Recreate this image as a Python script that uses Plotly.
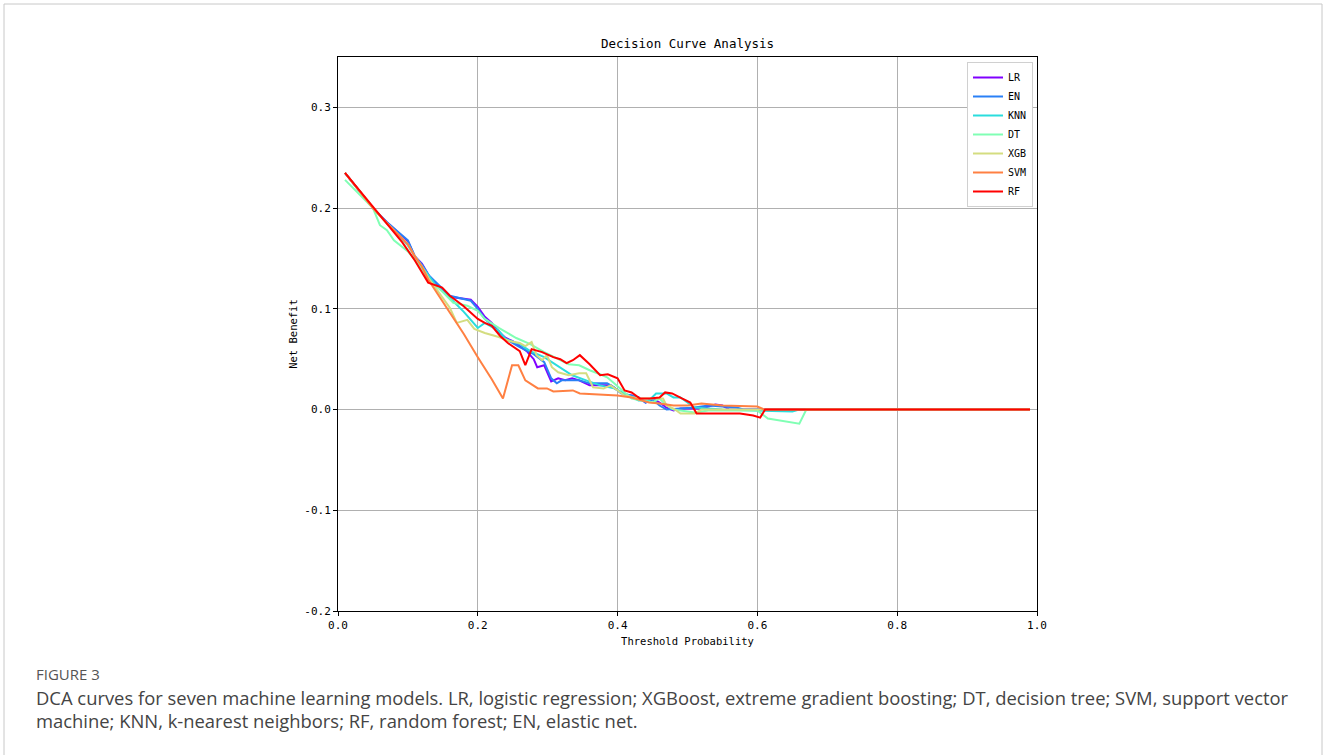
import plotly.graph_objects as go

# ---- data (threshold probability, net benefit) ----
LR_x = [0.01,0.05,0.07,0.08,0.10,0.11,0.12,0.13,0.15,0.16,0.19,0.20,0.21,0.22,0.23,0.24,0.25,0.26,0.27,0.28,0.285,0.295,0.305,0.315,0.325,0.335,0.345,0.36,0.39,0.40,0.41,0.42,0.43,0.44,0.45,0.46,0.47,0.48,0.49,0.52,0.54,0.55,0.56,0.99]
LR_y = [0.235,0.200,0.186,0.180,0.167,0.152,0.145,0.133,0.118,0.112,0.109,0.102,0.092,0.086,0.077,0.071,0.068,0.063,0.058,0.050,0.042,0.044,0.028,0.031,0.029,0.031,0.029,0.024,0.024,0.019,0.015,0.014,0.012,0.007,0.011,0.007,0.002,-0.001,0.001,0.001,0.005,0.004,0.000,0.000]

EN_x = [0.01,0.05,0.07,0.08,0.10,0.11,0.12,0.13,0.15,0.16,0.19,0.20,0.21,0.23,0.24,0.26,0.28,0.295,0.305,0.313,0.32,0.345,0.36,0.385,0.395,0.405,0.42,0.43,0.44,0.45,0.46,0.47,0.49,0.51,0.53,0.57,0.58,0.99]
EN_y = [0.235,0.200,0.186,0.180,0.168,0.152,0.144,0.133,0.119,0.113,0.108,0.100,0.090,0.078,0.070,0.062,0.055,0.047,0.031,0.026,0.029,0.029,0.026,0.026,0.022,0.016,0.014,0.012,0.007,0.010,0.004,0.000,0.001,0.002,0.004,0.002,0.000,0.000]

KNN_x = [0.01,0.05,0.07,0.08,0.10,0.11,0.12,0.13,0.14,0.16,0.17,0.18,0.20,0.21,0.23,0.24,0.26,0.275,0.295,0.32,0.335,0.355,0.375,0.395,0.41,0.43,0.445,0.455,0.47,0.48,0.49,0.50,0.51,0.55,0.60,0.65,0.66,0.99]
KNN_y = [0.235,0.200,0.185,0.178,0.163,0.152,0.142,0.132,0.123,0.111,0.104,0.097,0.081,0.086,0.078,0.070,0.065,0.058,0.052,0.041,0.034,0.029,0.024,0.021,0.016,0.009,0.009,0.016,0.016,0.012,0.012,0.007,0.002,0.000,-0.001,-0.002,0.000,0.000]

DT_x = [0.01,0.05,0.06,0.07,0.08,0.10,0.12,0.13,0.145,0.165,0.185,0.20,0.21,0.23,0.255,0.275,0.295,0.315,0.33,0.345,0.36,0.375,0.385,0.395,0.405,0.42,0.435,0.45,0.46,0.47,0.48,0.51,0.53,0.60,0.615,0.66,0.67,0.99]
DT_y = [0.228,0.200,0.183,0.178,0.168,0.157,0.140,0.128,0.120,0.106,0.103,0.098,0.090,0.081,0.071,0.065,0.057,0.050,0.045,0.044,0.039,0.035,0.032,0.026,0.020,0.011,0.009,0.007,0.011,0.004,0.000,-0.003,-0.001,-0.001,-0.009,-0.014,0.000,0.000]

XGB_x = [0.01,0.05,0.07,0.08,0.10,0.11,0.12,0.13,0.16,0.17,0.185,0.195,0.21,0.23,0.245,0.26,0.268,0.277,0.284,0.292,0.299,0.306,0.315,0.33,0.345,0.355,0.365,0.38,0.39,0.40,0.41,0.43,0.45,0.465,0.47,0.48,0.49,0.51,0.52,0.99]
XGB_y = [0.235,0.200,0.185,0.178,0.164,0.152,0.142,0.130,0.101,0.086,0.089,0.080,0.076,0.072,0.068,0.066,0.063,0.067,0.054,0.049,0.054,0.042,0.037,0.034,0.036,0.036,0.022,0.021,0.024,0.019,0.014,0.011,0.011,0.011,0.004,0.001,-0.004,-0.004,0.000,0.000]

SVM_x = [0.01,0.05,0.07,0.08,0.10,0.11,0.12,0.13,0.16,0.18,0.20,0.22,0.236,0.249,0.258,0.268,0.286,0.299,0.308,0.336,0.346,0.37,0.40,0.42,0.445,0.46,0.48,0.50,0.52,0.55,0.60,0.61,0.99]
SVM_y = [0.235,0.200,0.185,0.178,0.164,0.152,0.142,0.128,0.097,0.075,0.052,0.030,0.011,0.044,0.044,0.029,0.021,0.021,0.018,0.019,0.016,0.015,0.014,0.012,0.007,0.006,0.004,0.004,0.006,0.004,0.003,0.000,0.000]

RF_x = [0.01,0.057,0.072,0.092,0.11,0.129,0.149,0.16,0.179,0.20,0.21,0.22,0.232,0.243,0.26,0.268,0.277,0.292,0.308,0.318,0.327,0.336,0.346,0.36,0.375,0.386,0.40,0.41,0.42,0.432,0.446,0.46,0.468,0.478,0.492,0.504,0.513,0.546,0.575,0.594,0.604,0.611,0.99]
RF_y = [0.235,0.195,0.183,0.166,0.148,0.126,0.121,0.113,0.103,0.090,0.086,0.083,0.073,0.066,0.058,0.044,0.060,0.057,0.052,0.050,0.046,0.049,0.054,0.045,0.034,0.035,0.031,0.019,0.017,0.011,0.011,0.012,0.017,0.016,0.011,0.007,-0.004,-0.004,-0.004,-0.006,-0.008,0.000,0.000]

names = ["LR", "EN", "KNN", "DT", "XGB", "SVM", "RF"]
xs = [LR_x, EN_x, KNN_x, DT_x, XGB_x, SVM_x, RF_x]
ys = [LR_y, EN_y, KNN_y, DT_y, XGB_y, SVM_y, RF_y]
colors = ["#8000ff", "#2a80f6", "#2adddd", "#80ffb4", "#d4dd80", "#ff8042", "#ff0000"]

tick_vals_x = [0.0, 0.2, 0.4, 0.6, 0.8, 1.0]
tick_text_x = ["0.0", "0.2", "0.4", "0.6", "0.8", "1.0"]
tick_vals_y = [-0.2, -0.1, 0.0, 0.1, 0.2, 0.3]
tick_text_y = ["-0.2", "-0.1", "0.0", "0.1", "0.2", "0.3"]

MONO = "DejaVu Sans Mono"

fig = go.Figure()
for n, x, y, c in zip(names, xs, ys, colors):
    fig.add_trace(go.Scatter(x=x, y=y, mode="lines", name=n,
                             line=dict(color=c, width=2)))

W, H = 1328, 755
L, R, T, B = 338, 1037, 57, 611

def px2paper_x(px):
    return (px - L) / (R - L)

def px2paper_y(py):
    return (B - py) / (B - T)

fig.update_layout(
    width=W, height=H,
    margin=dict(l=L, r=W - R, t=T, b=H - B, pad=0),
    paper_bgcolor="white", plot_bgcolor="white",
    title=dict(text="Decision Curve Analysis", x=(L + R) / 2 / W, xanchor="center",
               y=1 - 44 / H, yanchor="middle", font=dict(family=MONO, size=12.5, color="black")),
    showlegend=True,
    legend=dict(x=px2paper_x(967), y=px2paper_y(62), xanchor="left", yanchor="top",
                bgcolor="white", bordercolor="#d0d0d0", borderwidth=1,
                font=dict(family=MONO, size=10, color="black"),
                tracegroupgap=0),
    xaxis=dict(range=[0, 1], tickvals=tick_vals_x, ticktext=tick_text_x,
               showgrid=True, gridcolor="#b0b0b0", gridwidth=1, zeroline=False,
               showline=True, linecolor="black", linewidth=1, mirror=True,
               ticks="outside", ticklen=4, tickcolor="black",
               tickfont=dict(family=MONO, size=11, color="black"),
               title=dict(text="Threshold Probability", standoff=6,
                          font=dict(family=MONO, size=10.5, color="black"))),
    yaxis=dict(range=[-0.2, 0.35], tickvals=tick_vals_y, ticktext=tick_text_y,
               showgrid=True, gridcolor="#b0b0b0", gridwidth=1, zeroline=False,
               showline=True, linecolor="black", linewidth=1, mirror=True,
               ticks="outside", ticklen=4, tickcolor="black",
               tickfont=dict(family=MONO, size=11, color="black"),
               title=dict(text="Net Benefit", standoff=4,
                          font=dict(family=MONO, size=10.5, color="black"))),
)

# page frame
fig.add_shape(type="rect", xref="paper", yref="paper",
              x0=px2paper_x(4), x1=px2paper_x(1322), y0=px2paper_y(770), y1=px2paper_y(4),
              line=dict(color="#c8c8c8", width=1), fillcolor="rgba(0,0,0,0)", layer="below")

caption_font = "Open Sans"
fig.add_annotation(text="FIGURE 3", xref="paper", yref="paper",
                   x=px2paper_x(34), y=px2paper_y(674), xanchor="left", yanchor="middle",
                   showarrow=False, font=dict(family=caption_font, size=15, color="#555555"))
fig.add_annotation(text="DCA curves for seven machine learning models. LR, logistic regression; XGBoost, extreme gradient boosting; DT, decision tree; SVM, support vector",
                   xref="paper", yref="paper",
                   x=px2paper_x(34), y=px2paper_y(697), xanchor="left", yanchor="middle",
                   showarrow=False, font=dict(family=caption_font, size=18.4, color="#444444"))
fig.add_annotation(text="machine; KNN, k-nearest neighbors; RF, random forest; EN, elastic net.",
                   xref="paper", yref="paper",
                   x=px2paper_x(34), y=px2paper_y(720), xanchor="left", yanchor="middle",
                   showarrow=False, font=dict(family=caption_font, size=18.4, color="#444444"))

fig.write_html("out.html", config={"displayModeBar": False},
               post_script="document.body.style.margin='0px';document.body.style.overflow='hidden';")
